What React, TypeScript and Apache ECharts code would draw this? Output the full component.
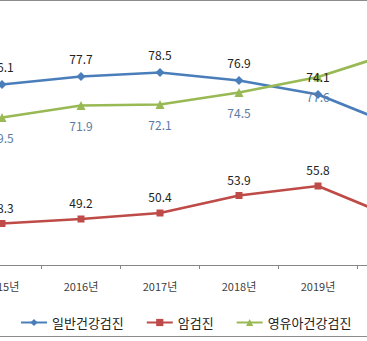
import React, { useEffect, useRef } from "react";
import * as echarts from "echarts";

const years = ["2015년", "2016년", "2017년", "2018년", "2019년", "2020년"];
const generalCheckup = [76.1, 77.7, 78.5, 76.9, 74.1, 67.7];
const cancerCheckup = [48.3, 49.2, 50.4, 53.9, 55.8, 49.3];
const infantCheckup = [69.5, 71.9, 72.1, 74.5, 77.6, 82.7];
const seriesNames = ["일반건강검진", "암검진", "영유아건강검진"];

const FONT = "'Noto Sans CJK KR', 'Noto Sans', sans-serif";
const SHIFT = 100;

export default function App() {
  const ref = useRef<HTMLDivElement>(null);
  useEffect(() => {
    if (!ref.current) return;
    const chart = echarts.init(ref.current, undefined, { renderer: "svg" });
    const labelBase = { show: true, fontSize: 12, fontFamily: FONT };
    chart.setOption({
      animation: false,
      backgroundColor: "#ffffff",
      textStyle: { fontFamily: FONT },
      grid: { left: SHIFT - 37.5, width: 474, top: 15, bottom: 76 },
      xAxis: {
        type: "category",
        data: years,
        boundaryGap: true,
        axisLine: { lineStyle: { color: "#868686", width: 1 } },
        axisTick: { show: true, length: 4, lineStyle: { color: "#868686" } },
        axisLabel: { color: "#404040", fontSize: 11, margin: 15, fontFamily: FONT },
      },
      yAxis: {
        type: "value",
        min: 40,
        max: 90,
        show: false,
        splitLine: { show: false },
      },
      legend: {
        data: seriesNames,
        top: 311,
        left: SHIFT + 15,
        itemWidth: 26,
        itemHeight: 9,
        itemGap: 22,
        textStyle: { fontSize: 13, color: "#222", fontFamily: FONT },
      },
      graphic: [
        { type: "line", shape: { x1: SHIFT, y1: 0.5, x2: SHIFT + 367, y2: 0.5 }, style: { stroke: "#8c8c8c", lineWidth: 1 } },
        { type: "line", shape: { x1: SHIFT, y1: 336.5, x2: SHIFT + 367, y2: 336.5 }, style: { stroke: "#8c8c8c", lineWidth: 1 } },
      ],
      series: [
        {
          name: seriesNames[0],
          type: "line",
          data: generalCheckup,
          color: "#4A7EBB",
          symbol: "diamond",
          symbolSize: 9,
          lineStyle: { width: 2.75, color: "#4A7EBB" },
          itemStyle: { color: "#4A7EBB" },
          label: { ...labelBase, position: "top", distance: 8, color: "#222" },
        },
        {
          name: seriesNames[1],
          type: "line",
          data: cancerCheckup,
          color: "#BE4B48",
          symbol: "rect",
          symbolSize: 7,
          lineStyle: { width: 2.75, color: "#BE4B48" },
          itemStyle: { color: "#BE4B48" },
          label: { ...labelBase, position: "top", distance: 7, color: "#222" },
        },
        {
          name: seriesNames[2],
          type: "line",
          data: infantCheckup,
          color: "#98B954",
          symbol: "triangle",
          symbolSize: 9,
          lineStyle: { width: 2.75, color: "#98B954" },
          itemStyle: { color: "#98B954" },
          label: { ...labelBase, position: "bottom", distance: 9, color: "#5B7BA6" },
        },
      ],
    });
    return () => chart.dispose();
  }, []);
  return (
    <div
      style={{
        position: "absolute",
        left: 0,
        top: 0,
        width: 367,
        height: 341,
        overflow: "hidden",
        background: "#fff",
      }}
    >
      <div
        ref={ref}
        style={{ position: "absolute", left: -SHIFT, top: 0, width: 600, height: 341 }}
      />
    </div>
  );
}
